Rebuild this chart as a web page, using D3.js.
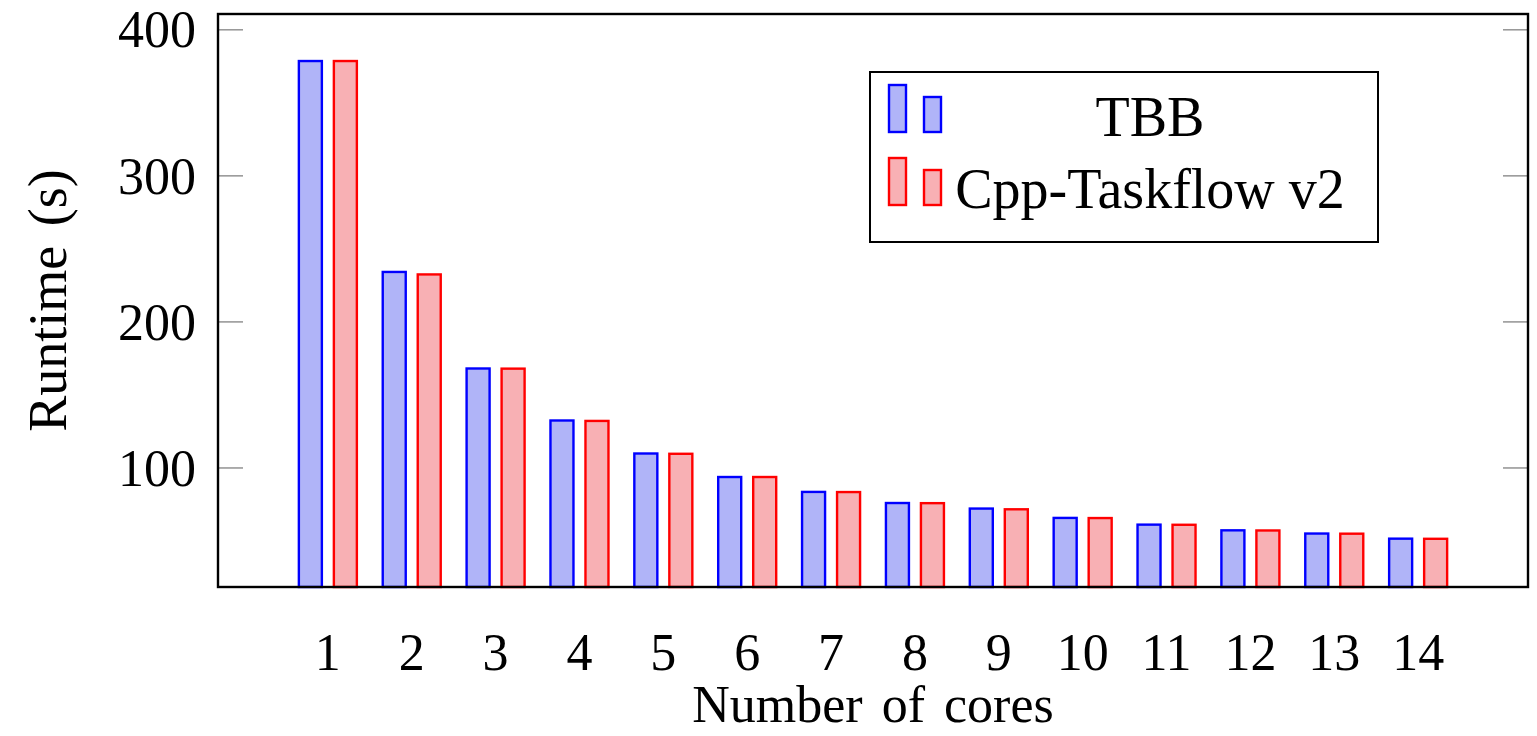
<!DOCTYPE html>
<html>
<head>
<meta charset="utf-8">
<script src="https://cdn.jsdelivr.net/npm/d3@7"></script>
<style>
  html, body { margin: 0; padding: 0; background: #fff; }
  text { font-family: "Liberation Serif", "Times New Roman", serif; fill: #000; }
</style>
</head>
<body>
<div id="chart"></div>
<script>
// data
const cores = [1, 2, 3, 4, 5, 6, 7, 8, 9, 10, 11, 12, 13, 14];
const tbb = [378.6, 234.2, 168.1, 132.5, 109.9, 93.8, 83.6, 76.0, 72.2, 65.8, 61.2, 57.3, 55.1, 51.6];
const taskflow = [378.6, 232.5, 168.0, 132.2, 109.7, 93.8, 83.5, 75.9, 71.7, 65.7, 61.1, 57.2, 55.0, 51.5];
const yTicks = [100, 200, 300, 400];
const seriesNames = ["TBB", "Cpp-Taskflow v2"];

const width = 1537, height = 736;
const plot = { left: 218, right: 1528, top: 14, bottom: 587 };

const colors = [
  { fill: "#b0b4f8", stroke: "#0000ff" },
  { fill: "#f8b0b4", stroke: "#ff0000" }
];

const svg = d3.select("#chart")
  .append("svg")
  .attr("width", width)
  .attr("height", height);

// scales
const x = d3.scaleLinear()
  .domain([-0.31, 15.31])
  .range([plot.left, plot.right]);

const y = d3.scaleLinear()
  .domain([18.5, 410.8])
  .range([plot.bottom, plot.top]);

const barW = 23;       // px
const barShift = 17.5; // px from group centre

// bars
const series = [tbb, taskflow];
series.forEach((vals, s) => {
  svg.append("g")
    .selectAll("rect")
    .data(vals)
    .enter()
    .append("rect")
    .attr("x", (d, i) => x(cores[i]) + (s === 0 ? -barShift : barShift) - barW / 2)
    .attr("y", d => y(d))
    .attr("width", barW)
    .attr("height", d => y.range()[0] - y(d))
    .attr("fill", colors[s].fill)
    .attr("stroke", colors[s].stroke)
    .attr("stroke-width", 2.4);
});

// y ticks (left and right, inward)
const tickG = svg.append("g");
yTicks.forEach(t => {
  tickG.append("line")
    .attr("x1", plot.left).attr("x2", plot.left + 25)
    .attr("y1", y(t)).attr("y2", y(t))
    .attr("stroke", "#999").attr("stroke-width", 1.6);
  tickG.append("line")
    .attr("x1", plot.right - 25).attr("x2", plot.right)
    .attr("y1", y(t)).attr("y2", y(t))
    .attr("stroke", "#999").attr("stroke-width", 1.6);
  tickG.append("text")
    .attr("x", plot.left - 22)
    .attr("y", y(t))
    .attr("dy", "0.34em")
    .attr("text-anchor", "end")
    .attr("font-size", 52)
    .text(t);
});

// x tick labels
svg.append("g")
  .selectAll("text")
  .data(cores)
  .enter()
  .append("text")
  .attr("x", d => x(d))
  .attr("y", 670)
  .attr("text-anchor", "middle")
  .attr("font-size", 52)
  .text(d => d);

// frame
svg.append("rect")
  .attr("x", plot.left).attr("y", plot.top)
  .attr("width", plot.right - plot.left)
  .attr("height", plot.bottom - plot.top)
  .attr("fill", "none")
  .attr("stroke", "#000")
  .attr("stroke-width", 2.4);

// axis titles
svg.append("text")
  .attr("x", (plot.left + plot.right) / 2)
  .attr("y", 722)
  .attr("text-anchor", "middle")
  .attr("font-size", 52)
  .attr("word-spacing", 6)
  .text("Number of cores");

svg.append("text")
  .attr("transform", `translate(66,${(plot.top + plot.bottom) / 2}) rotate(-90)`)
  .attr("text-anchor", "middle")
  .attr("font-size", 54)
  .attr("word-spacing", 6)
  .text("Runtime (s)");

// legend
const lg = svg.append("g");
lg.append("rect")
  .attr("x", 870).attr("y", 72)
  .attr("width", 508).attr("height", 170)
  .attr("fill", "#fff")
  .attr("stroke", "#000")
  .attr("stroke-width", 2);

seriesNames.forEach((name, s) => {
  const base = s === 0 ? 132 : 205;
  lg.append("rect")
    .attr("x", 889).attr("y", base - 47)
    .attr("width", 17).attr("height", 47)
    .attr("fill", colors[s].fill).attr("stroke", colors[s].stroke).attr("stroke-width", 2.4);
  lg.append("rect")
    .attr("x", 924).attr("y", base - 35)
    .attr("width", 17).attr("height", 35)
    .attr("fill", colors[s].fill).attr("stroke", colors[s].stroke).attr("stroke-width", 2.4);
  lg.append("text")
    .attr("x", 1150)
    .attr("y", s === 0 ? 136 : 208)
    .attr("text-anchor", "middle")
    .attr("font-size", 56)
    .text(name);
});
</script>
</body>
</html>
